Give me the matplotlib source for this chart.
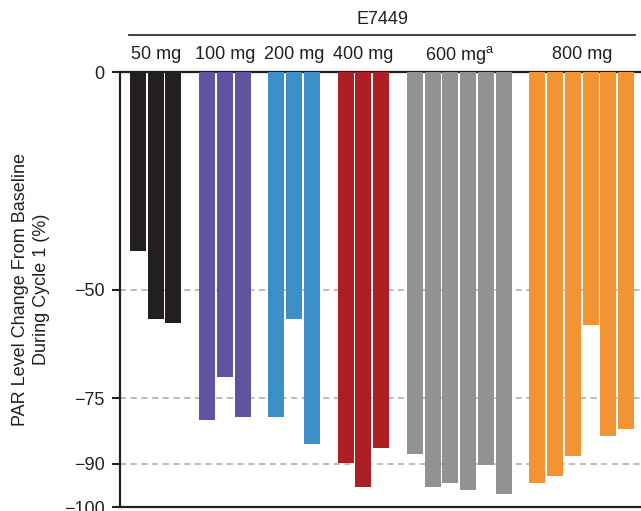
import matplotlib
matplotlib.use("Agg")
import matplotlib.pyplot as plt
from matplotlib.transforms import blended_transform_factory
from matplotlib.lines import Line2D
import numpy as np

plt.rcParams['font.family'] = ['Liberation Sans', 'DejaVu Sans']
plt.rcParams['mathtext.fontset'] = 'custom'
plt.rcParams['mathtext.rm'] = 'Liberation Sans'
plt.rcParams['mathtext.it'] = 'Liberation Sans'

# ---- data ----
groups = ["50 mg", "100 mg", "200 mg", "400 mg", "600 mg$^{\\mathrm{a}}$", "800 mg"]
values_50 = [-41.0, -56.7, -57.6]
values_100 = [-80.0, -70.0, -79.4]
values_200 = [-79.4, -56.7, -85.4]
values_400 = [-89.8, -95.4, -86.4]
values_600 = [-87.8, -95.4, -94.5, -96.1, -90.3, -97.0]
values_800 = [-94.5, -92.9, -88.3, -58.2, -83.6, -82.0]
series = [values_50, values_100, values_200, values_400, values_600, values_800]
colors = ["#231f20", "#6153a0", "#3d8fc8", "#ad1f24", "#929292", "#f29434"]
yticks = [0, -50, -75, -90, -100]
ytick_labels = ["0", "\u221250", "\u221275", "\u221290", "\u2212100"]
gridlines = [-50, -75, -90]
drug = "E7449"
ylabel = "PAR Level Change From Baseline\nDuring Cycle 1 (%)"

TXT = "#231f20"
FS = 13

fig = plt.figure(figsize=(6.41, 5.11), dpi=100)
ax = fig.add_axes([120/641, (511-507)/511, 1 - 120/641, (507-72.5)/511])

group_gap = 1.9
pos = 0.0
centers = []
for vals, col in zip(series, colors):
    xs = pos + np.arange(len(vals))
    ax.bar(xs, vals, width=0.9, color=col, zorder=3, linewidth=0)
    centers.append(xs.mean())
    pos = xs[-1] + group_gap

for g in gridlines:
    ax.axhline(g, color="#aaaaaa", lw=1.1, ls=(0, (4, 3)), zorder=1)

ax.set_xlim(-1.01, 28.34)
ax.set_ylim(-100, 0)
ax.set_yticks(yticks)
ax.set_yticklabels(ytick_labels, fontsize=FS, color=TXT)
ax.set_xticks([])
ax.tick_params(axis='y', direction='out', length=6, width=1.5, color=TXT, pad=5)
for s in ['left', 'top', 'bottom']:
    ax.spines[s].set_color(TXT)
    ax.spines[s].set_linewidth(1.6)
ax.spines['right'].set_visible(False)
ax.set_ylabel(ylabel, fontsize=FS, color=TXT, linespacing=1.3)
ax.yaxis.set_label_coords(-0.134, 0.5)

trans = blended_transform_factory(ax.transData, fig.transFigure)
for c, name in zip(centers, groups):
    ax.text(c, 1 - 54.5/511, name, transform=trans, ha='center', va='center',
            fontsize=FS, color=TXT)

fig.add_artist(Line2D([129.3/641, 635/641], [1 - 35/511, 1 - 35/511],
                      transform=fig.transFigure, color=TXT, lw=1.2))
fig.text(382/641, 1 - 20/511, drug, ha='center', va='center', fontsize=FS, color=TXT)

fig.savefig("out.png", dpi=100)
